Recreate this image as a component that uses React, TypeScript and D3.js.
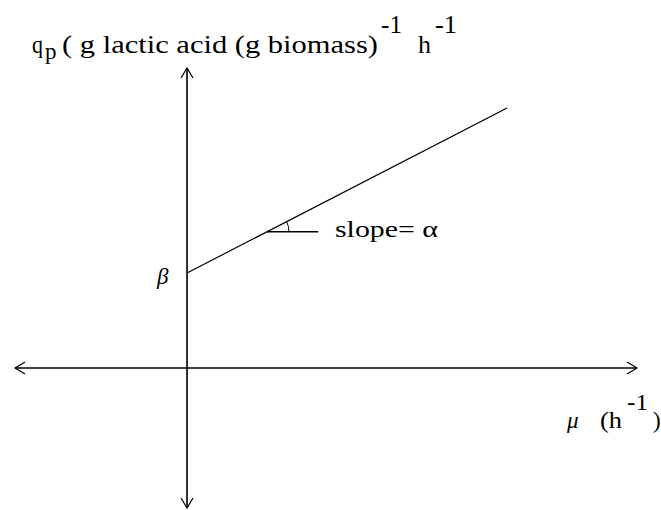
import React from "react";
import * as d3 from "d3";

// Abstract model: q_p = alpha * mu + beta
const muPoints = [0, 1];
const qpPoints = [1, 2.737];
const axisMuExtent = [-0.5375, 1.406];
const axisQpExtent = [-1.474, 3.158];
const angleMu = [0.25, 0.41];
const titleParts = ["q", "p", "( g lactic acid (g biomass)", "-1", "h", "-1"];
const xLabelParts = ["\u03bc", "(h", "-1", ")"];
const slopeLabel = "slope= \u03b1";
const interceptLabel = "\u03b2";

const W = 661;
const H = 510;

export default function App() {
  const x = d3.scaleLinear().domain(axisMuExtent).range([15, 637]);
  const y = d3.scaleLinear().domain(axisQpExtent).range([508, 68]);
  const x0 = x(0);
  const y0 = y(0);
  const line = d3
    .line<number>()
    .x((_, i) => x(muPoints[i]))
    .y((d) => y(d));
  const slope = (qpPoints[1] - qpPoints[0]) / (muPoints[1] - muPoints[0]);
  const aq = qpPoints[0] + slope * angleMu[0];
  const ax = x(angleMu[0]);
  const ay = y(aq);
  const ang = Math.atan2(y(qpPoints[0]) - y(qpPoints[1]), x(muPoints[1]) - x(muPoints[0]));
  const r = 22;
  const arcPath = `M${ax + r},${ay} A${r},${r} 0 0 0 ${ax + r * Math.cos(ang)},${ay - r * Math.sin(ang)}`;

  const xl = x(axisMuExtent[0]);
  const xr = x(axisMuExtent[1]);
  const yt = y(axisQpExtent[1]);
  const yb = y(axisQpExtent[0]);
  const al = 10;
  const aw = 6;
  const font = "'Liberation Serif', 'Times New Roman', serif";

  return (
    <svg
      width={W}
      height={H}
      style={{ position: "absolute", left: 0, top: 0, background: "#fff" }}
      fontFamily={font}
    >
      <rect width={W} height={H} fill="#fff" />
      {/* axes */}
      <g stroke="#000" strokeWidth={1.6} fill="none">
        <line x1={xl} y1={y0} x2={xr} y2={y0} />
        <line x1={x0} y1={yt} x2={x0} y2={yb} />
        <path d={`M${xl + al},${y0 - aw} L${xl},${y0} L${xl + al},${y0 + aw}`} strokeWidth={1.2} />
        <path d={`M${xr - al},${y0 - aw} L${xr},${y0} L${xr - al},${y0 + aw}`} strokeWidth={1.2} />
        <path d={`M${x0 - aw},${yt + al} L${x0},${yt} L${x0 + aw},${yt + al}`} strokeWidth={1.2} />
        <path d={`M${x0 - aw},${yb - al} L${x0},${yb} L${x0 + aw},${yb - al}`} strokeWidth={1.2} />
      </g>
      {/* model line */}
      <path d={line(qpPoints) || ""} stroke="#000" strokeWidth={1.2} fill="none" />
      {/* slope marker */}
      <line x1={ax} y1={ay} x2={x(angleMu[1])} y2={ay} stroke="#000" strokeWidth={1.3} />
      <path d={arcPath} stroke="#000" strokeWidth={1} fill="none" />
      <text x={335} y={237} fontSize={23} textLength={103} lengthAdjust="spacingAndGlyphs">{slopeLabel}</text>
      <text x={157} y={284} fontSize={23} fontStyle="italic">{interceptLabel}</text>
      {/* title */}
      <g fontSize={26}>
        <text x={32} y={53} textLength={11} lengthAdjust="spacingAndGlyphs">{titleParts[0]}</text>
        <text x={45} y={59} fontSize={23}>{titleParts[1]}</text>
        <text x={62} y={53} textLength={316} lengthAdjust="spacingAndGlyphs">{titleParts[2]}</text>
        <text x={381} y={33} textLength={21} lengthAdjust="spacingAndGlyphs">{titleParts[3]}</text>
        <text x={418} y={53}>{titleParts[4]}</text>
        <text x={435} y={33} textLength={22} lengthAdjust="spacingAndGlyphs">{titleParts[5]}</text>
      </g>
      {/* x label */}
      <g fontSize={23}>
        <text x={567} y={428} fontStyle="italic">{xLabelParts[0]}</text>
        <text x={600} y={428} textLength={22} lengthAdjust="spacingAndGlyphs">{xLabelParts[1]}</text>
        <text x={627} y={410} textLength={21} lengthAdjust="spacingAndGlyphs">{xLabelParts[2]}</text>
        <text x={653} y={428}>{xLabelParts[3]}</text>
      </g>
    </svg>
  );
}
